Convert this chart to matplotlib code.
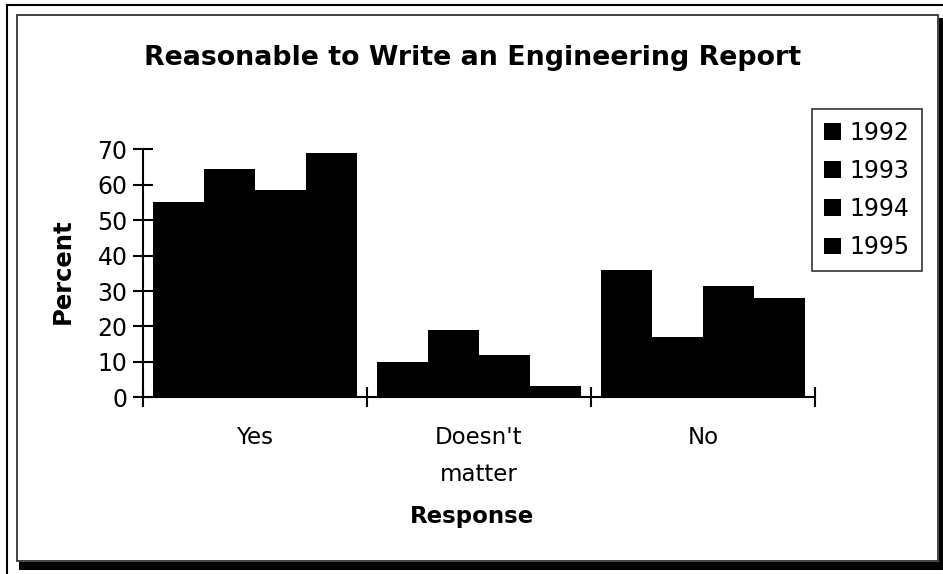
import matplotlib
matplotlib.use("Agg")
import matplotlib.pyplot as plt
import numpy as np
from matplotlib.patches import Rectangle
from matplotlib.lines import Line2D

categories = ["Yes", "Doesn't\nmatter", "No"]
years = ["1992", "1993", "1994", "1995"]
v1992 = [55, 10, 36]
v1993 = [64.5, 19, 17]
v1994 = [58.5, 12, 31.5]
v1995 = [69, 3.3, 28]
series = [v1992, v1993, v1994, v1995]
yticks = [0, 10, 20, 30, 40, 50, 60, 70]

W, H = 943, 574
plt.rcParams['font.family'] = ['DejaVu Sans']
fig = plt.figure(figsize=(W / 100, H / 100), dpi=100)

def fx(px):
    return px / W

def fy(py):
    return 1 - py / H

ax = fig.add_axes([fx(142.7), fy(397.3), fx(815) - fx(142.7), fy(149.3) - fy(397.3)])

x = np.arange(len(categories))
w = 0.2277
for i, (yr, vals) in enumerate(zip(years, series)):
    ax.bar(x + (i - 1.5) * w, vals, width=w, color='black', edgecolor='none', label=yr)

ax.set_xlim(-0.5, 2.5)
ax.set_ylim(0, 70)
ax.set_yticks(yticks)
ax.set_yticklabels([str(t) for t in yticks], fontsize=17)
ax.set_xticks([-0.5, 0.5, 1.5, 2.5])
ax.set_xticklabels([])
ax.set_xticks(x, minor=True)
ax.set_xticklabels(categories, minor=True, fontsize=16.5, linespacing=1.75)
ax.tick_params(axis='x', which='minor', length=0, pad=21)
ax.tick_params(axis='x', which='major', direction='inout', length=14, width=1.5)
ax.tick_params(axis='y', direction='inout', length=14, width=1.5, pad=4)
for s in ['top', 'right']:
    ax.spines[s].set_visible(False)
for s in ['left', 'bottom']:
    ax.spines[s].set_linewidth(1.5)

fig.text(fx(473), fy(58), "Reasonable to Write an Engineering Report",
         ha='center', va='center', fontsize=19.3, fontweight='bold')
fig.text(fx(472), fy(516), "Response", ha='center', va='center', fontsize=16.5, fontweight='bold')
fig.text(fx(63), fy(271), "Percent", ha='center', va='center', rotation=90,
         fontsize=17.5, fontweight='heavy')

leg = fig.legend(loc='upper left', bbox_to_anchor=(fx(812), fy(109)), fontsize=17,
                 frameon=True, fancybox=False, handlelength=0.72, handleheight=0.72,
                 handletextpad=0.38, labelspacing=0.6, borderpad=0.5, borderaxespad=0)
leg.get_frame().set_edgecolor('black')
leg.get_frame().set_linewidth(1.2)

# frame decorations
fig.add_artist(Line2D([fx(7), fx(943)], [fy(5), fy(5)], color='black', lw=1.5))
fig.add_artist(Line2D([fx(7), fx(7)], [fy(5), fy(574)], color='black', lw=1.5))
fig.add_artist(Rectangle((fx(19), fy(570)), fx(943) - fx(19), fy(562) - fy(570),
                         transform=fig.transFigure, color='black', lw=0))
fig.add_artist(Rectangle((fx(939), fy(570)), fx(943) - fx(939), fy(18) - fy(570),
                         transform=fig.transFigure, color='black', lw=0))
fig.add_artist(Rectangle((fx(17), fy(561)), fx(938) - fx(17), fy(15) - fy(561),
                         transform=fig.transFigure, fill=False, edgecolor='#333333', lw=1.3))

fig.savefig("out.png", dpi=100)
